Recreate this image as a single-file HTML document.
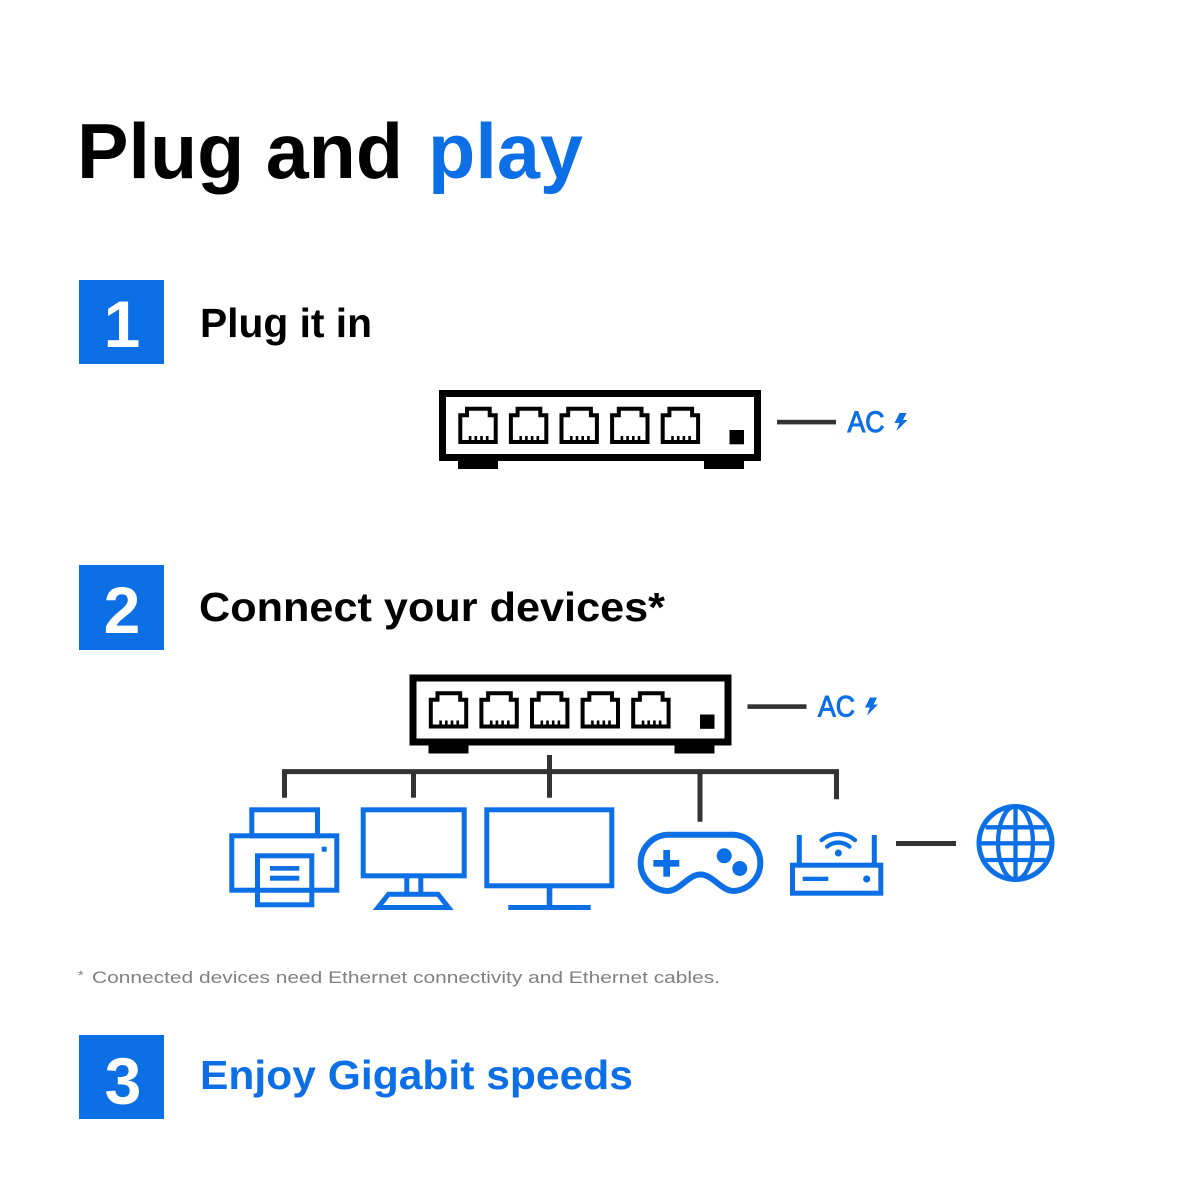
<!DOCTYPE html>
<html>
<head>
<meta charset="utf-8">
<style>
  html, body { margin: 0; padding: 0; background: #fff; }
  svg { display: block; }
  text { font-family: "Liberation Sans", Arial, sans-serif; }
</style>
</head>
<body>
<svg width="1200" height="1200" viewBox="0 0 1200 1200" xmlns="http://www.w3.org/2000/svg">
  <rect x="0" y="0" width="1200" height="1200" fill="#fff"/>

  <defs>
    <g id="port">
      <path d="M2 8.6H8.7V2H31.4V8.6H37.4V35.3H2Z" fill="none" stroke="#000" stroke-width="4"/>
      <rect x="10.5" y="29.3" width="2.6" height="4.5" fill="#000"/>
      <rect x="16.2" y="29.3" width="2.6" height="4.5" fill="#000"/>
      <rect x="21.9" y="29.3" width="2.6" height="4.5" fill="#000"/>
      <rect x="27.6" y="29.3" width="2.6" height="4.5" fill="#000"/>
    </g>
    <g id="switch">
      <rect x="442.5" y="393.5" width="315" height="64" fill="#fff" stroke="#000" stroke-width="7"/>
      <rect x="458" y="460" width="40" height="9" fill="#000"/>
      <rect x="704" y="460" width="40" height="9" fill="#000"/>
      <use href="#port" x="458.3" y="406.7"/>
      <use href="#port" x="508.9" y="406.7"/>
      <use href="#port" x="559.5" y="406.7"/>
      <use href="#port" x="610.1" y="406.7"/>
      <use href="#port" x="660.7" y="406.7"/>
      <rect x="729.5" y="430" width="14.5" height="14.3" fill="#000"/>
      <rect x="777" y="419.8" width="59" height="4.6" fill="#333"/>
      <text x="847.5" y="432" font-size="30" fill="#0d6fe5" stroke="#0d6fe5" stroke-width="1" textLength="37" lengthAdjust="spacingAndGlyphs">AC</text>
      <path d="M899.5 413 L906.5 413 L903 420 L907.5 420 L896.5 431 L899.3 423 L894.5 423 Z" fill="#0d6fe5"/>
    </g>
  </defs>

  <!-- Title -->
  <text x="77" y="178" font-size="78" font-weight="bold" fill="#000" textLength="326" lengthAdjust="spacingAndGlyphs">Plug and</text>
  <text x="428" y="178" font-size="78" font-weight="bold" fill="#0d6fe5" textLength="155" lengthAdjust="spacingAndGlyphs">play</text>

  <!-- Step 1 -->
  <rect x="79" y="280" width="85" height="84" fill="#0d6fe5"/>
  <text x="122" y="347" font-size="66" font-weight="bold" fill="#fff" text-anchor="middle">1</text>
  <text x="200" y="337" font-size="41" font-weight="bold" fill="#000" textLength="172" lengthAdjust="spacingAndGlyphs">Plug it in</text>

  <use href="#switch"/>

  <!-- Step 2 -->
  <rect x="79" y="565" width="85" height="85" fill="#0d6fe5"/>
  <text x="122" y="633" font-size="66" font-weight="bold" fill="#fff" text-anchor="middle">2</text>
  <text x="199" y="621" font-size="41" font-weight="bold" fill="#000" textLength="466" lengthAdjust="spacingAndGlyphs">Connect your devices*</text>

  <g transform="translate(-29.5,284.5)">
    <use href="#switch"/>
  </g>

  <!-- Tree connectors -->
  <g stroke="#333" stroke-width="5" fill="none">
    <path d="M284.5 797.7 V771.6 H836.5 V799.3"/>
    <line x1="413.5" y1="771.6" x2="413.5" y2="797.7"/>
    <line x1="549.5" y1="755" x2="549.5" y2="797.7"/>
    <line x1="700" y1="771.6" x2="700" y2="821.7"/>
    <line x1="896" y1="843.5" x2="956" y2="843.5"/>
  </g>

  <g fill="none" stroke="#0d6fe5" stroke-width="5">
    <!-- Printer -->
    <rect x="251.8" y="809.8" width="65.7" height="26"/>
    <rect x="231.8" y="835.8" width="105" height="54.4"/>
    <rect x="257.5" y="855.8" width="54.3" height="49" fill="#fff"/>
    <line x1="257.5" y1="890.2" x2="311.8" y2="890.2"/>
    <!-- Monitor 1 -->
    <rect x="363.2" y="809.8" width="101" height="66"/>
    <path d="M406.8 878 V894.2 M420.8 878 V894.2"/>
    <path d="M388.5 894.2 H438 L448.5 907.5 H378 Z"/>
    <!-- Monitor 2 -->
    <rect x="486.8" y="809.8" width="125" height="76"/>
    <!-- Router -->
    <rect x="792.5" y="865.2" width="88.3" height="28"/>
  </g>
  <g fill="#0d6fe5">
    <!-- printer details -->
    <rect x="270" y="866" width="29.3" height="4.7"/>
    <rect x="270" y="875.7" width="29.3" height="5"/>
    <rect x="321.7" y="846.7" width="5" height="5"/>
    <!-- monitor 2 stand -->
    <rect x="546.7" y="887" width="5.6" height="19"/>
    <rect x="508.3" y="905" width="82.4" height="5"/>
    <!-- gamepad plus -->
    <rect x="663.3" y="850" width="6.7" height="26.7"/>
    <rect x="653.3" y="860" width="26" height="6.7"/>
    <circle cx="724.2" cy="855.8" r="7.5"/>
    <circle cx="739.8" cy="868.5" r="7.5"/>
    <!-- router -->
    <rect x="796.8" y="835" width="5" height="30"/>
    <rect x="871.8" y="835" width="5" height="30"/>
    <rect x="802.7" y="876.7" width="25.6" height="4.3"/>
    <circle cx="866.7" cy="879" r="3.6"/>
    <circle cx="838.3" cy="853" r="3.5"/>
  </g>
  <g fill="none" stroke="#0d6fe5">
    <!-- gamepad outline -->
    <path d="M667.2 834.7 H733.8 A28.2 28.2 0 0 1 733.8 891 C721 891 713 874.5 700.5 874.5 C688 874.5 680 891 667.2 891 A28.2 28.2 0 0 1 667.2 834.7 Z" stroke-width="6"/>
    <!-- wifi arcs -->
    <path d="M821.6 840.1 A26 26 0 0 1 855 840.1" stroke-width="4.3" stroke-linecap="round"/>
    <path d="M827.1 846.6 A17.5 17.5 0 0 1 849.5 846.6" stroke-width="4.3" stroke-linecap="round"/>
    <!-- globe -->
    <circle cx="1015.5" cy="843" r="36.5" stroke-width="5"/>
    <ellipse cx="1015.5" cy="843" rx="17.5" ry="36.5" stroke-width="4.3"/>
    <line x1="1015.5" y1="806.5" x2="1015.5" y2="879.5" stroke-width="4.3"/>
    <line x1="979" y1="843.3" x2="1052" y2="843.3" stroke-width="4.3"/>
    <line x1="985.5" y1="827.3" x2="1045.5" y2="827.3" stroke-width="4.3"/>
    <line x1="985.5" y1="860" x2="1045.5" y2="860" stroke-width="4.3"/>
  </g>

  <!-- Footnote -->
  <text x="78" y="980" font-size="14" fill="#808080">*</text>
  <text x="92" y="983" font-size="16.5" fill="#808080" textLength="628" lengthAdjust="spacingAndGlyphs">Connected devices need Ethernet connectivity and Ethernet cables.</text>

  <!-- Step 3 -->
  <rect x="79" y="1035" width="85" height="84" fill="#0d6fe5"/>
  <text x="123" y="1104" font-size="66" font-weight="bold" fill="#fff" text-anchor="middle">3</text>
  <text x="200" y="1089" font-size="41" font-weight="bold" fill="#0d6fe5" textLength="433" lengthAdjust="spacingAndGlyphs">Enjoy Gigabit speeds</text>
</svg>
</body>
</html>
